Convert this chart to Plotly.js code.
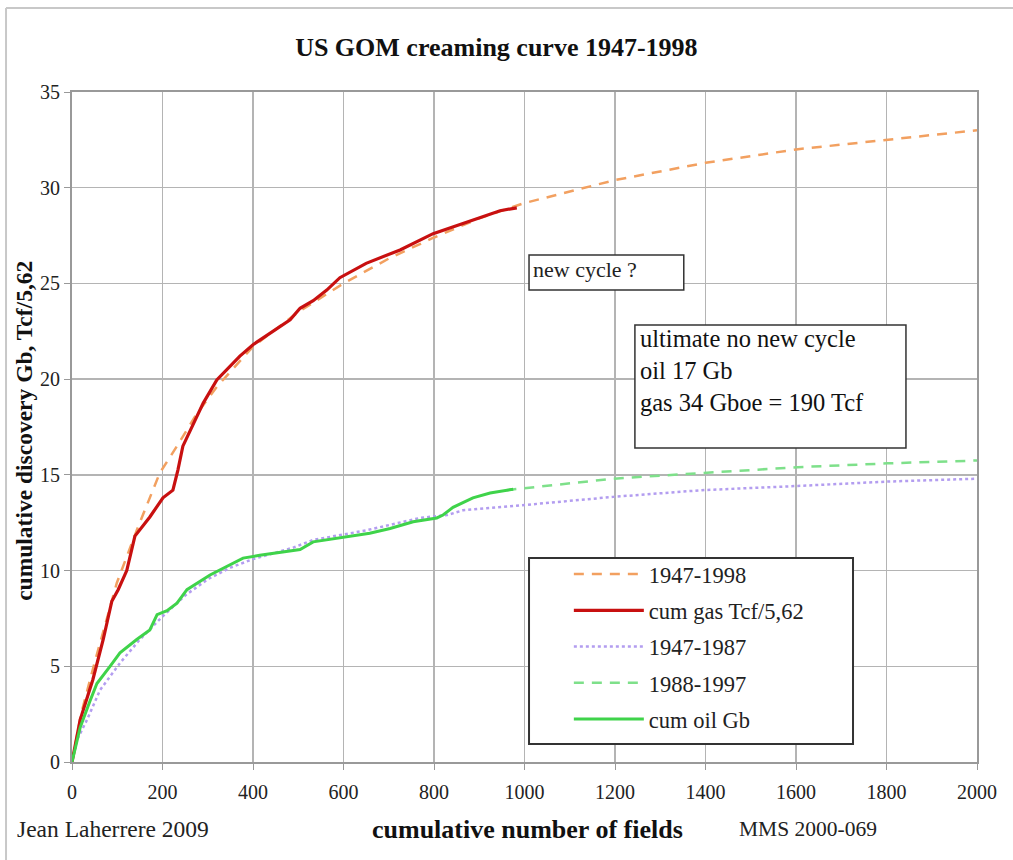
<!DOCTYPE html>
<html>
<head>
<meta charset="utf-8">
<script src="https://cdn.plot.ly/plotly-3.0.1.min.js"></script>
<style>html,body{margin:0;padding:0;background:#fff;overflow:hidden;}</style>
</head>
<body>
<div id="chart" style="width:1013px;height:860px;"></div>
<script>
// ---- data ----
const gasFields = [0, 18, 46, 69, 88, 102, 121, 139, 172, 201, 223, 234, 245, 268, 290, 320, 342, 371, 400, 444, 482, 504, 533, 563, 592, 650, 725, 798, 873, 946, 983];
const gasCum    = [0, 2.2, 4.3, 6.4, 8.4, 9.0, 10.0, 11.8, 12.8, 13.8, 14.2, 15.25, 16.5, 17.7, 18.75, 19.96, 20.5, 21.2, 21.8, 22.5, 23.1, 23.7, 24.1, 24.65, 25.3, 26.05, 26.75, 27.6, 28.2, 28.8, 28.95];

const fitGasFields = [0, 20, 50, 99, 143, 172, 194, 232, 276, 320, 400, 500, 600, 700, 800, 900, 1000, 1200, 1400, 1600, 1800, 2000];
const fitGas       = [0, 2.5, 5.2, 9.35, 12.1, 13.85, 15.1, 16.5, 18.2, 19.6, 21.7, 23.5, 25.0, 26.3, 27.4, 28.4, 29.2, 30.4, 31.3, 32.0, 32.5, 33.0];

const oilFields = [0, 18, 40, 55, 84, 106, 143, 172, 188, 210, 232, 254, 305, 342, 378, 415, 460, 504, 533, 607, 658, 703, 754, 806, 820, 842, 886, 924, 975];
const oilCum    = [0, 1.8, 3.2, 4.1, 5.0, 5.7, 6.4, 6.9, 7.7, 7.9, 8.3, 9.0, 9.77, 10.2, 10.65, 10.8, 10.97, 11.1, 11.5, 11.75, 11.95, 12.2, 12.55, 12.75, 12.9, 13.3, 13.8, 14.05, 14.25];

const fit8797Fields = [0, 11, 33, 62, 106, 150, 200, 250, 300, 350, 400, 450, 489, 533, 650, 769, 829, 864, 975, 1196, 1392, 1604, 1803, 2000];
const fit8797       = [0, 1.15, 2.2, 3.76, 5.17, 6.4, 7.6, 8.7, 9.55, 10.15, 10.6, 10.95, 11.2, 11.6, 12.1, 12.75, 12.9, 13.15, 13.37, 13.85, 14.2, 14.42, 14.65, 14.8];

const fit8897Fields = [960, 1019, 1196, 1381, 1604, 1803, 2000];
const fit8897       = [14.2, 14.35, 14.8, 15.08, 15.4, 15.6, 15.75];

const seriesNames = ['1947-1998', 'cum gas Tcf/5,62', '1947-1987', '1988-1997', 'cum oil Gb'];
const xTicks = [0, 200, 400, 600, 800, 1000, 1200, 1400, 1600, 1800, 2000];
const yTicks = [0, 5, 10, 15, 20, 25, 30, 35];
const noteLines = ['ultimate no new cycle', 'oil 17 Gb', 'gas 34 Gboe = 190 Tcf'];

const SERIF = 'Liberation Serif, Times New Roman, serif';

const traces = [
  {x: fitGasFields, y: fitGas, name: seriesNames[0], mode: 'lines', legendrank: 1, legendgroup: 'a',
   line: {color: '#F2A060', width: 2.5, dash: '10px,8px'}},
  {x: fit8797Fields, y: fit8797, name: seriesNames[2], mode: 'lines', legendrank: 3, legendgroup: 'c',
   line: {color: '#B39DF0', width: 2.5, dash: 'dot'}},
  {x: fit8897Fields, y: fit8897, name: seriesNames[3], mode: 'lines', legendrank: 4, legendgroup: 'd',
   line: {color: '#7EE08A', width: 2.5, dash: '10px,8px'}},
  {x: gasFields, y: gasCum, name: seriesNames[1], mode: 'lines', legendrank: 2, legendgroup: 'b',
   line: {color: '#C81010', width: 3.2}},
  {x: oilFields, y: oilCum, name: seriesNames[4], mode: 'lines', legendrank: 5, legendgroup: 'e',
   line: {color: '#3FD34A', width: 3}}
];

const layout = {
  width: 1013, height: 860,
  margin: {l: 72, r: 36, t: 92, b: 98},
  paper_bgcolor: '#ffffff', plot_bgcolor: '#ffffff',
  font: {family: SERIF, color: '#222', size: 20},
  title: {text: '<b>US GOM creaming curve 1947-1998</b>', x: 0.49, xanchor: 'center', y: 0.945, yanchor: 'middle',
          font: {family: SERIF, size: 26, color: '#111'}},
  xaxis: {range: [0, 2000], tickvals: xTicks, ticktext: xTicks.map(String), showgrid: true, gridcolor: '#b4b4b4', gridwidth: 1.5,
          showline: true, linecolor: '#999', linewidth: 2, mirror: true, ticks: 'outside', ticklen: 6, tickcolor: '#999',
          ticklabelstandoff: 5,
          tickfont: {family: SERIF, size: 20, color: '#222'}, zeroline: false, fixedrange: true},
  yaxis: {range: [0, 35], tickvals: yTicks, ticktext: yTicks.map(String), showgrid: true, gridcolor: '#b4b4b4', gridwidth: 1.5,
          showline: true, linecolor: '#999', linewidth: 2, mirror: true, ticks: 'outside', ticklen: 6, tickcolor: '#999',
          tickfont: {family: SERIF, size: 20, color: '#222'}, zeroline: false, fixedrange: true},
  showlegend: true,
  legend: {x: 0.549, y: 0.312, xanchor: 'left', yanchor: 'top', bgcolor: 'rgba(0,0,0,0)', borderwidth: 0,
           font: {family: SERIF, size: 22.5, color: '#222'}, traceorder: 'grouped', tracegroupgap: 4, itemwidth: 70},
  shapes: [
    // outer frame (only top and left edges are visible in the reference)
    {type: 'line', xref: 'paper', yref: 'paper', x0: -0.0729, x1: 1.2, y0: 1.1254, y1: 1.1254,
     line: {color: '#c8c8c8', width: 2}, layer: 'below'},
    {type: 'line', xref: 'paper', yref: 'paper', x0: -0.0729, x1: -0.0729, y0: -0.3, y1: 1.1254,
     line: {color: '#c8c8c8', width: 2}, layer: 'below'},
    // legend box
    {type: 'rect', xref: 'paper', yref: 'paper', x0: 0.505, x1: 0.8630, y0: 0.0269, y1: 0.3045,
     line: {color: '#333', width: 2}, fillcolor: '#ffffff', layer: 'above'},
    // note boxes
    {type: 'rect', xref: 'paper', yref: 'paper', x0: 0.505, x1: 0.676, y0: 0.7045, y1: 0.7567,
     line: {color: '#333', width: 1.5}, fillcolor: '#ffffff', layer: 'above'},
    {type: 'rect', xref: 'paper', yref: 'paper', x0: 0.622, x1: 0.9215, y0: 0.4687, y1: 0.6522,
     line: {color: '#333', width: 1.5}, fillcolor: '#ffffff', layer: 'above'}
  ],
  annotations: [
    {text: '<b>cumulative discovery Gb, Tcf/5,62</b>', xref: 'paper', yref: 'paper', x: -0.0525, y: 0.495, textangle: -90,
     xanchor: 'center', yanchor: 'middle', showarrow: false, font: {family: SERIF, size: 23.5, color: '#111'}},
    {text: 'new cycle ?', xref: 'paper', yref: 'paper', x: 0.507, y: 0.757, xanchor: 'left', yanchor: 'top', showarrow: false,
     font: {family: SERIF, size: 22, color: '#222'}},
    {text: noteLines.join('<br>'), xref: 'paper', yref: 'paper', x: 0.625, y: 0.655, xanchor: 'left', yanchor: 'top',
     align: 'left', showarrow: false, font: {family: SERIF, size: 24.5, color: '#111'}},
    {text: 'Jean Laherrere 2009', xref: 'paper', yref: 'paper', x: -0.063, y: -0.1, xanchor: 'left', yanchor: 'middle', showarrow: false,
     font: {family: SERIF, size: 23.5, color: '#222'}},
    {text: '<b>cumulative number of fields</b>', xref: 'paper', yref: 'paper', x: 0.503, y: -0.1, xanchor: 'center', yanchor: 'middle', showarrow: false,
     font: {family: SERIF, size: 26, color: '#111'}},
    {text: 'MMS 2000-069', xref: 'paper', yref: 'paper', x: 0.735, y: -0.1, xanchor: 'left', yanchor: 'middle', showarrow: false,
     font: {family: SERIF, size: 21.5, color: '#222'}}
  ]
};

Plotly.newPlot('chart', traces, layout, {displayModeBar: false, staticPlot: true});
</script>
</body>
</html>
